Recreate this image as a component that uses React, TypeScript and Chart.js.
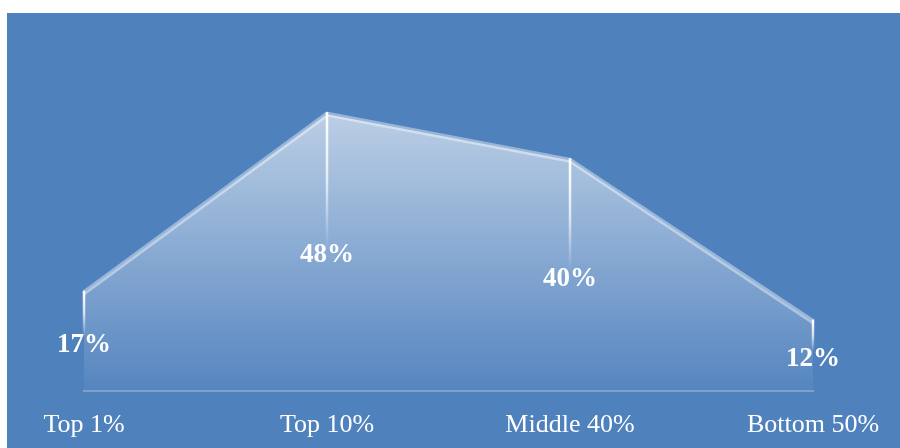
import React, { useEffect, useRef } from "react";
import { Chart, registerables } from "chart.js";

Chart.register(...registerables);

const categories = ["Top 1%", "Top 10%", "Middle 40%", "Bottom 50%"];
const shares = [17, 48, 40, 12];
const yMin = 0;
const yMax = 60;

const dropLinePlugin = {
  id: "dropLines",
  afterDatasetsDraw(chart: any) {
    const ctx = chart.ctx;
    const meta = chart.getDatasetMeta(0);
    const yScale = chart.scales.y;
    ctx.save();
    meta.data.forEach((pt: any, i: number) => {
      const v = shares[i];
      const labelY = yScale.getPixelForValue(v / 2) + 3;
      const endY = labelY - 8;
      const g = ctx.createLinearGradient(0, pt.y, 0, endY);
      g.addColorStop(0, "rgba(255,255,255,1)");
      g.addColorStop(0.5, "rgba(255,255,255,0.7)");
      g.addColorStop(1, "rgba(255,255,255,0)");
      ctx.strokeStyle = g;
      ctx.lineWidth = 2.5;
      ctx.beginPath();
      ctx.moveTo(pt.x, pt.y - 2);
      ctx.lineTo(pt.x, endY);
      ctx.stroke();
      ctx.fillStyle = "#ffffff";
      ctx.font = "bold 27px 'Liberation Serif', 'Times New Roman', serif";
      ctx.textAlign = "center";
      ctx.textBaseline = "middle";
      ctx.fillText(v + "%", pt.x, labelY);
    });
    ctx.restore();
  },
};

export default function App() {
  const ref = useRef<HTMLCanvasElement | null>(null);
  useEffect(() => {
    if (!ref.current) return;
    const chart = new Chart(ref.current, {
      type: "line",
      data: {
        labels: categories,
        datasets: [
          {
            data: shares,
            fill: "origin",
            borderColor: "rgba(255,255,255,0.42)",
            borderWidth: 5,
            pointRadius: 0,
            tension: 0,
            backgroundColor: (c: any) => {
              const area = c.chart.chartArea;
              if (!area) return "rgba(255,255,255,0.3)";
              const g = c.chart.ctx.createLinearGradient(0, area.top, 0, area.bottom);
              g.addColorStop(0, "rgba(255,255,255,0.76)");
              g.addColorStop(1, "rgba(255,255,255,0.04)");
              return g;
            },
          },
        ],
      },
      options: {
        responsive: false,
        animation: false,
        layout: { padding: { left: 77, right: 87, top: 32, bottom: -12 } },
        plugins: { legend: { display: false }, tooltip: { enabled: false } },
        scales: {
          x: {
            offset: false,
            grid: { display: false, drawTicks: false },
            border: { display: true, color: "rgba(255,255,255,0.25)", width: 2 },
            ticks: {
              color: "#ffffff",
              padding: 19,
              font: { family: "'Liberation Serif', 'Times New Roman', serif", size: 26 },
            },
          },
          y: { display: false, min: yMin, max: yMax },
        },
      },
      plugins: [dropLinePlugin],
    });
    return () => chart.destroy();
  }, []);
  return (
    <div
      style={{
        position: "absolute",
        left: 7,
        top: 13,
        width: 893,
        height: 435,
        background: "#4f81bd",
        overflow: "hidden",
      }}
    >
      <canvas ref={ref} width={893} height={435} style={{ display: "block" }} />
    </div>
  );
}
